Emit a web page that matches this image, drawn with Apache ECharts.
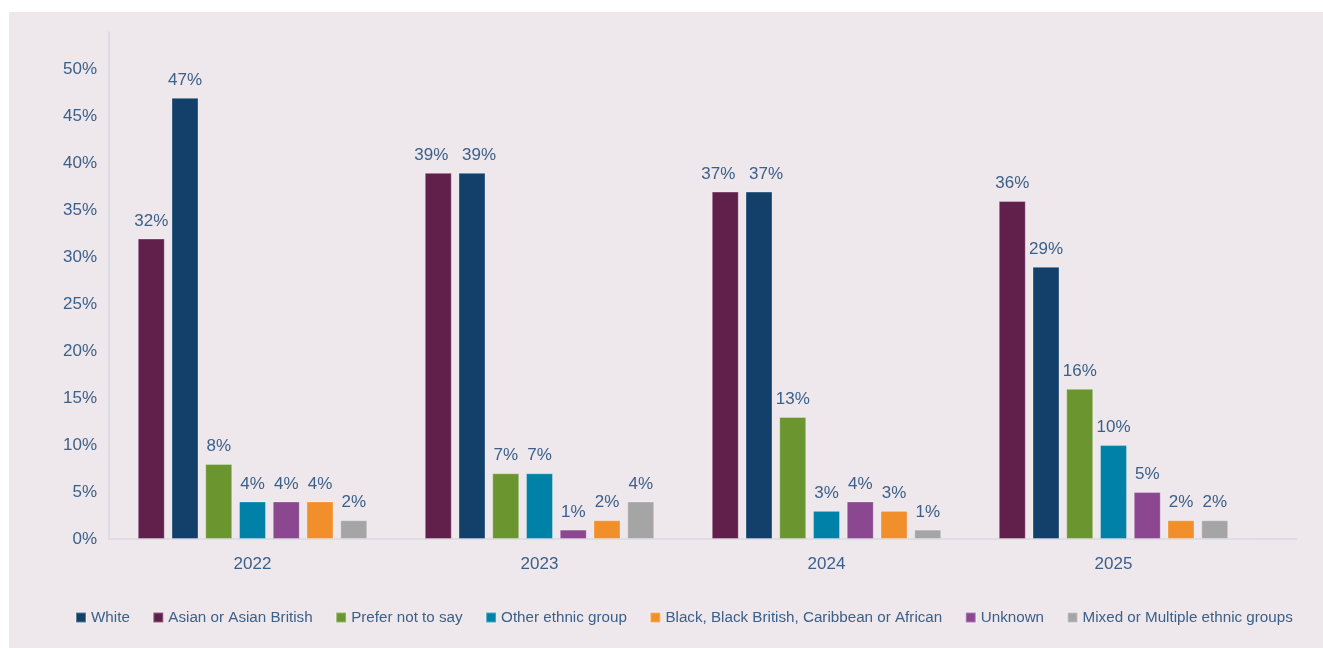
<!DOCTYPE html>
<html>
<head>
<meta charset="utf-8">
<title>Ethnicity by year</title>
<script src="https://cdn.jsdelivr.net/npm/echarts@6/dist/echarts.min.js"></script>
<style>
  html, body { margin: 0; padding: 0; background: #ffffff; }
  #panel { position: absolute; left: 9px; top: 12px; width: 1314px; height: 636px; background: #EEE8EC; }
  #chart { position: absolute; left: 0; top: 0; width: 1323px; height: 648px; }
</style>
</head>
<body>
<div id="panel"></div>
<div id="chart"></div>
<script>
// Survey years
const years = ['2022', '2023', '2024', '2025'];

// Share of respondents (%) per ethnic group, one value per year
const asian   = [32, 39, 37, 36];
const white   = [47, 39, 37, 29];
const prefer  = [8, 7, 13, 16];
const other   = [4, 7, 3, 10];
const unknown = [4, 1, 4, 5];
const black   = [4, 2, 3, 2];
const mixed   = [2, 4, 1, 2];

// Y axis range and step (%)
const yMin = 0;
const yMax = 54;
const yStep = 5;

const legendOrder = [
  'White', 'Asian or Asian British', 'Prefer not to say', 'Other ethnic group',
  'Black, Black British, Caribbean or African', 'Unknown', 'Mixed or Multiple ethnic groups'
];

const FONT = '"Liberation Sans", Arial, Helvetica, sans-serif';
const TEXT = '#3B6089';
const AXIS = '#D6DAE2';

// When the two tallest bars of a year are level, their labels would touch:
// push the left one a little left and the right one a little right.
function sideNudge(dir) {
  return function (params) {
    const i = params.dataIndex;
    if (Math.abs(asian[i] - white[i]) < 2) {
      return { dx: dir * 7 };
    }
    return {};
  };
}

function barSeries(name, data, color, layout) {
  const s = {
    name: name,
    type: 'bar',
    data: data,
    barWidth: 27,
    barGap: '25%',
    itemStyle: { color: color, borderColor: 'rgba(255,255,255,0.3)', borderWidth: 1 },
    label: {
      show: true,
      position: 'top',
      distance: 9,
      formatter: '{c}%',
      color: TEXT,
      fontFamily: FONT,
      fontSize: 17
    }
  };
  if (layout) s.labelLayout = layout;
  return s;
}

const chart = echarts.init(document.getElementById('chart'), null, { renderer: 'canvas' });

const option = {
  backgroundColor: 'transparent',
  animation: false,
  textStyle: { fontFamily: FONT },
  grid: { left: 109, width: 1148, top: 32, bottom: 109, containLabel: false },
  legend: {
    data: legendOrder,
    left: 70,
    top: 605,
    itemWidth: 10,
    itemHeight: 10,
    itemGap: 22.5,
    icon: 'rect',
    textStyle: { color: TEXT, fontFamily: FONT, fontSize: 15.2 }
  },
  xAxis: {
    type: 'category',
    data: years,
    axisLine: { show: true, lineStyle: { color: AXIS, width: 1.5 } },
    axisTick: { show: false },
    axisLabel: { color: TEXT, fontFamily: FONT, fontSize: 17, margin: 17 }
  },
  yAxis: {
    type: 'value',
    min: yMin,
    max: yMax,
    interval: yStep,
    axisLine: { show: true, lineStyle: { color: AXIS, width: 1.5 } },
    axisTick: { show: false },
    splitLine: { show: false },
    axisLabel: {
      color: TEXT,
      fontFamily: FONT,
      fontSize: 17,
      margin: 12,
      showMaxLabel: false,
      formatter: function (v) { return v % yStep === 0 ? v + '%' : ''; }
    }
  },
  series: [
    barSeries('Asian or Asian British', asian, '#611F4B', sideNudge(-1)),
    barSeries('White', white, '#12406B', sideNudge(1)),
    barSeries('Prefer not to say', prefer, '#6B962F'),
    barSeries('Other ethnic group', other, '#0081A7'),
    barSeries('Unknown', unknown, '#8B4790'),
    barSeries('Black, Black British, Caribbean or African', black, '#F18F2A'),
    barSeries('Mixed or Multiple ethnic groups', mixed, '#A5A5A5')
  ]
};

chart.setOption(option);

// The baseline continues a little past the last category group
const baseY = chart.convertToPixel({ yAxisIndex: 0 }, 0);
const gridRight = option.grid.left + option.grid.width;
chart.setOption({
  graphic: [{
    type: 'line',
    shape: { x1: gridRight, y1: baseY, x2: gridRight + 40, y2: baseY },
    style: { stroke: AXIS, lineWidth: 1.5 },
    silent: true
  }]
});
</script>
</body>
</html>
